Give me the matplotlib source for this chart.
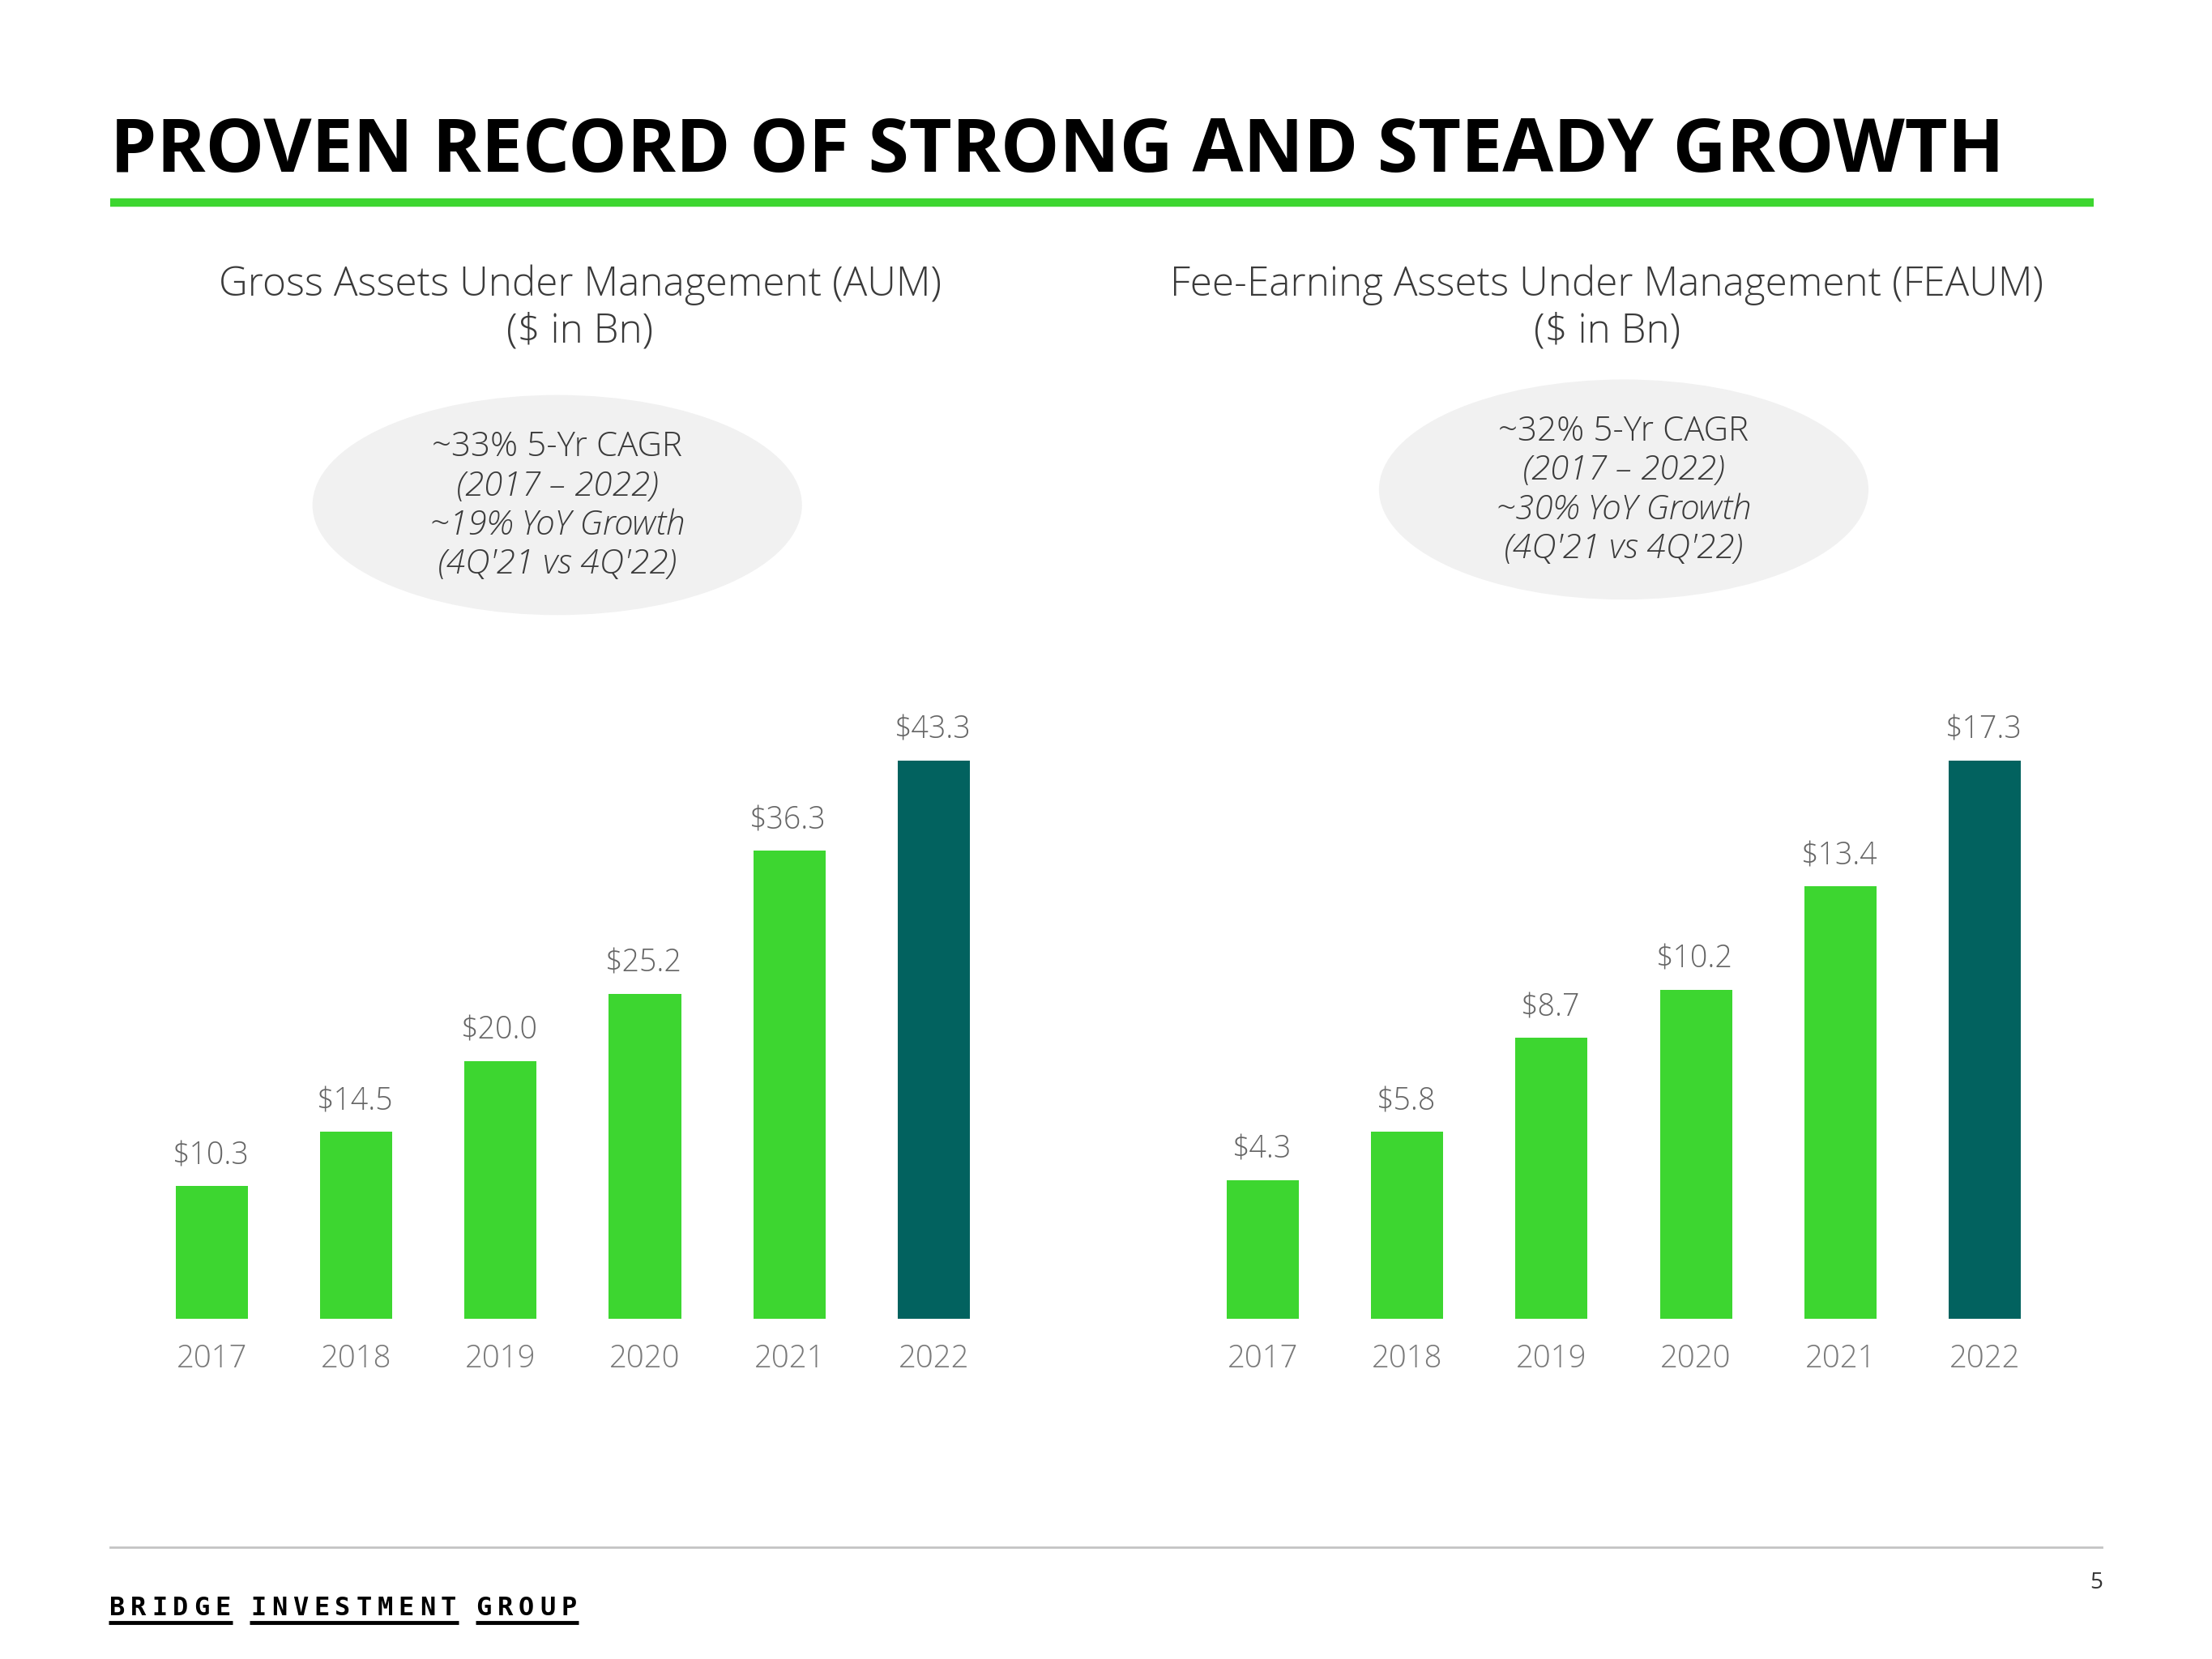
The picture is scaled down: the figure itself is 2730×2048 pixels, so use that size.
import matplotlib
matplotlib.use("Agg")
import matplotlib.pyplot as plt
from matplotlib.patches import Ellipse
from matplotlib.lines import Line2D

years = ["2017", "2018", "2019", "2020", "2021", "2022"]
aum_values = [10.3, 14.5, 20.0, 25.2, 36.3, 43.3]
feaum_values = [4.3, 5.8, 8.7, 10.2, 13.4, 17.3]

aum_title = "Gross Assets Under Management (AUM)\n($ in Bn)"
feaum_title = "Fee-Earning Assets Under Management (FEAUM)\n($ in Bn)"
aum_note = ["~33% 5-Yr CAGR", "(2017 \u2013 2022)", "~19% YoY Growth", "(4Q'21 vs 4Q'22)"]
feaum_note = ["~32% 5-Yr CAGR", "(2017 \u2013 2022)", "~30% YoY Growth", "(4Q'21 vs 4Q'22)"]
logo_words = ["BRIDGE", "INVESTMENT", "GROUP"]

GREEN = "#3DD630"
TEAL = "#02625F"
GREY_TXT = "#666666"
DARK_TXT = "#3a3a3a"

plt.rcParams["font.family"] = ["Open Sans", "DejaVu Sans"]

W, H = 1568.0, 1176.0  # layout measured on the shrunk reference


def fx(x):
    return x / W


def fy(y):
    return 1 - y / H


fig = plt.figure(figsize=(27.3, 20.48), dpi=100)
fig.patch.set_facecolor("white")

# header
fig.text(fx(78), fy(122), "PROVEN RECORD OF STRONG AND STEADY GROWTH",
         fontsize=65.7, fontweight="bold", color="black", ha="left", va="baseline")
fig.add_artist(Line2D([fx(78), fx(1484)], [fy(143.5), fy(143.5)],
                      color=GREEN, lw=7.5, solid_capstyle="butt"))


def panel(values, title, note, left_px, title_cx, ell_cx, ell_cy):
    fig.text(fx(title_cx), fy(218.5), title, fontsize=35.6, color="#3a3a3a",
             fontweight="light", ha="center", va="center", linespacing=1.2)

    fig.add_artist(Ellipse((fx(ell_cx), fy(ell_cy)), 347 / W, 156 / H,
                           transform=fig.transFigure, facecolor="#f1f1f1",
                           edgecolor="none"))
    for i, line in enumerate(note):
        fig.text(fx(ell_cx), fy(ell_cy - 41 + i * 27.7), line, fontsize=30.3,
                 color=DARK_TXT, ha="center", va="center", fontweight="light",
                 style="normal" if i == 0 else "italic")

    ax = fig.add_axes([fx(left_px), fy(935), 614 / W, 396 / H])
    colors = [GREEN] * (len(values) - 1) + [TEAL]
    xs = range(len(values))
    ax.bar(xs, values, width=0.5, color=colors)
    ax.set_xlim(-0.5, len(values) - 0.5)
    ax.set_ylim(0, max(values))
    for x, v in zip(xs, values):
        ax.annotate(f"${v:.1f}", (x, v), xytext=(-1, 13), textcoords="offset points",
                    ha="center", va="bottom", fontsize=27, color=GREY_TXT,
                    fontweight="light", annotation_clip=False)
    ax.set_xticks(list(xs))
    ax.set_xticklabels(years, fontsize=27.5, color="#7a7a7a", fontweight="light")
    ax.tick_params(axis="x", length=0, pad=22)
    ax.set_yticks([])
    for s in ax.spines.values():
        s.set_visible(False)
    ax.patch.set_alpha(0)
    return ax


panel(aum_values, aum_title, aum_note, 99, 411, 395, 358)
panel(feaum_values, feaum_title, feaum_note, 844, 1139, 1151, 347)

# footer
fig.add_artist(Line2D([fx(78), fx(1490)], [fy(1097), fy(1097)],
                      color="#c4c4c4", lw=2))
pitch = 15.0
x0 = 78
for w in logo_words:
    for k, ch in enumerate(w):
        fig.text(fx(x0 + k * pitch + 5), fy(1145), ch, fontsize=23, fontweight="bold",
                 family="DejaVu Sans Mono", color="black", ha="center", va="baseline")
    wlen = len(w) * pitch - 3
    fig.add_artist(Line2D([fx(x0 - 1), fx(x0 + wlen)], [fy(1150), fy(1150)],
                          color="black", lw=3.5, solid_capstyle="butt"))
    x0 += len(w) * pitch + 10
fig.text(fx(1486), fy(1122), "5", fontsize=20, color="#333333", ha="center", va="center")

fig.savefig("out.png", dpi=100, facecolor="white")
